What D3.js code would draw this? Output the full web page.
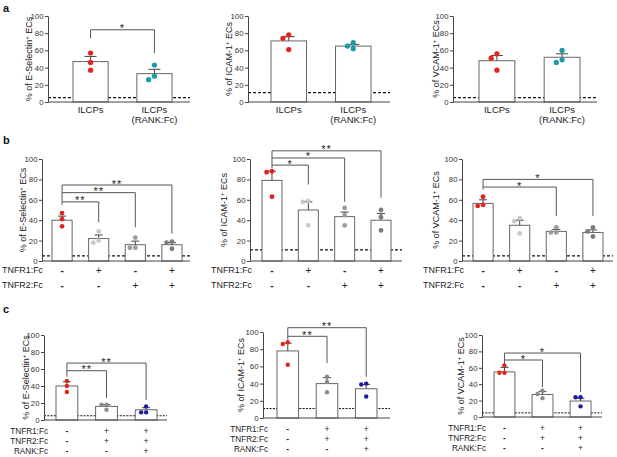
<!DOCTYPE html>
<html>
<head>
<meta charset="utf-8">
<script src="https://cdn.jsdelivr.net/npm/d3@7"></script>
<style>
  body { margin: 0; background: #fff; }
  svg { font-family: "Liberation Sans", Arial, sans-serif; }
</style>
</head>
<body>
<svg width="617" height="457"></svg>
<script>
// ---- data ----
const markers = ['E-Selectin', 'ICAM-1', 'VCAM-1'];
const yTicks = [0, 20, 40, 60, 80, 100];

// panel a
const groupsA = [['ILCPs'], ['ILCPs', '(RANK:Fc)']];
const meansA = [[47, 33], [71, 65], [48, 52]];
const semA = [[6, 5], [5, 2], [6, 4]];
const pointsA = [
    [[57, 46, 37], [43, 30, 26]],
    [[78, 74, 61], [69, 65, 62]],
    [[56, 51, 37], [60, 46, 49]]
];
const cutoffA = [5, 11, 5];
// [from, to, label, level, right end]
const bracketsA = [[[0, 1, '*', 84, 57]], [], []];
const leftEndA = [74, 0, 0];
const colorsA = ['#e5231e', '#1b9aa8'];

// panel b
const signRowsB = [
    ['TNFR1:Fc', ['-', '+', '-', '+']],
    ['TNFR2:Fc', ['-', '-', '+', '+']]
];
const meansB = [[40, 22, 16, 16], [79, 50, 43.5, 40], [56.5, 35, 29, 28]];
const semB = [[4, 3.5, 3.5, 2], [9, 8, 4.5, 6.5], [3.5, 5, 2, 2.5]];
const pointsB = [
    [[47, 41, 34], [29, 18, 20], [23, 13, 13], [19, 18, 12]],
    [[88, 87, 63], [59, 58, 35], [52, 45, 35], [50, 43, 30]],
    [[63, 54, 55], [42, 39, 27], [33, 28, 28], [33, 29, 24]]
];
const cutoffB = [5, 11, 5];
const bracketsB = [
    [[0, 1, '**', 58, 38], [0, 2, '**', 67, 33], [0, 3, '**', 74.5, 27]],
    [[0, 1, '*', 94, 75], [0, 2, '*', 101, 58], [0, 3, '**', 108, 62]],
    [[0, 2, '*', 72.5, 44], [0, 3, '*', 80, 44]]
];
const leftEndB = [55, 91, 70];
const colorsB = ['#e5231e', '#c9c9c9', '#9c9c9c', '#7c7c7c'];

// panel c
const signRowsC = [
    ['TNFR1:Fc', ['-', '+', '+']],
    ['TNFR2:Fc', ['-', '+', '+']],
    ['RANK:Fc', ['-', '-', '+']]
];
const meansC = [[40, 16, 12], [78, 40, 34], [55, 27.5, 19.5]];
const semC = [[5, 2, 2.5], [9, 7, 5], [5.5, 3.5, 3.3]];
const pointsC = [
    [[46, 40, 33], [18, 18, 12], [16, 9, 9]],
    [[88, 86, 62], [48, 42, 30], [40, 39, 25]],
    [[63, 54, 54], [32, 28, 23], [24, 24, 13]]
];
const cutoffC = [5, 11, 5];
const bracketsC = [
    [[0, 1, '**', 58, 26], [0, 2, '**', 67, 23.5]],
    [[0, 1, '**', 95, 64], [0, 2, '**', 105, 48]],
    [[0, 1, '*', 69.5, 36.5], [0, 2, '*', 78, 30.5]]
];
const leftEndC = [51, 91, 64];
const colorsC = ['#e5231e', '#8a8a8a', '#1c1c9c'];

// ---- layout (pixels) ----
const layoutA = [
    { ax: 48, end: 190, band: [73, 172], y: [102, 16], labX: 30 },
    { ax: 248, end: 390, band: [271, 371], y: [102, 16], labX: 230 },
    { ax: 453, end: 597, band: [479, 580], y: [102, 16], labX: 437 }
];
const layoutB = [
    { ax: 42, end: 190, band: [52, 182], y: [261, 159], labX: 24, rowX: 43, rowY: [271, 286] },
    { ax: 250, end: 402, band: [262, 391], y: [261, 159], labX: 225, rowX: 252, rowY: [271, 286] },
    { ax: 462, end: 613, band: [473, 603], y: [261, 159], labX: 437, rowX: 464, rowY: [271, 286] }
];
const layoutC = [
    { ax: 44, end: 167, band: [56, 157], y: [420, 335], labX: 27, rowX: 48, rowY: [432, 442, 452] },
    { ax: 263, end: 390, band: [277, 377], y: [418, 332], labX: 242, rowX: 268, rowY: [430, 440, 450] },
    { ax: 482, end: 602, band: [494, 591], y: [417, 335], labX: 462, rowX: 486, rowY: [429, 439, 449] }
];

const svg = d3.select('svg');

// spread points of one bar sideways so they do not overlap
function dodge(vals, y, r) {
    const placed = [];
    vals.map((v, i) => ({ v, i }))
        .sort((a, b) => b.v - a.v)
        .forEach(p => {
            const cy = y(p.v);
            let cx = 0;
            for (const k of [0, -1, 1, -2, 2]) {
                cx = k * (2 * r + 0.6);
                if (placed.every(q => Math.hypot(q.cx - cx, q.cy - cy) >= 2 * r)) break;
            }
            placed.push({ v: p.v, cx, cy });
        });
    return placed;
}

function drawPanel(o) {
    const L = o.layout;
    const g = svg.append('g');
    const y = d3.scaleLinear().domain([0, 100]).range(L.y);
    const x = d3.scaleBand().domain(d3.range(o.means.length)).range(L.band)
        .paddingInner(0.45).paddingOuter(0);
    const cx = i => x(i) + x.bandwidth() / 2;

    // detection cutoff
    g.append('line')
        .attr('x1', L.ax).attr('x2', L.end)
        .attr('y1', y(o.cutoff)).attr('y2', y(o.cutoff))
        .attr('stroke', '#111').attr('stroke-width', o.dashW)
        .attr('stroke-dasharray', o.dash);

    // bars
    g.selectAll('rect.bar')
        .data(o.means)
        .enter()
        .append('rect')
        .attr('class', 'bar')
        .attr('x', (d, i) => x(i))
        .attr('width', x.bandwidth())
        .attr('y', d => y(d))
        .attr('height', d => y(0) - y(d))
        .attr('fill', '#fff')
        .attr('stroke', '#666')
        .attr('stroke-width', 1);

    // error bars (upper only)
    const capW = o.cap;
    o.means.forEach((m, i) => {
        const top = y(m + o.sem[i]);
        g.append('line').attr('x1', cx(i)).attr('x2', cx(i))
            .attr('y1', y(m)).attr('y2', top)
            .attr('stroke', '#444').attr('stroke-width', 1);
        g.append('line').attr('x1', cx(i) - capW / 2).attr('x2', cx(i) + capW / 2)
            .attr('y1', top).attr('y2', top)
            .attr('stroke', '#444').attr('stroke-width', 1);
    });

    // individual points
    o.points.forEach((vals, i) => {
        g.selectAll(null)
            .data(dodge(vals, y, o.r))
            .enter()
            .append('circle')
            .attr('cx', d => cx(i) + d.cx)
            .attr('cy', d => d.cy)
            .attr('r', o.r)
            .attr('fill', o.colors[i]);
    });

    // axes
    const yAxis = g.append('g')
        .attr('transform', `translate(${L.ax},0)`)
        .call(d3.axisLeft(y).tickValues(yTicks).tickSize(3).tickSizeOuter(0).tickPadding(1.5));
    yAxis.select('.domain').attr('stroke', '#444');
    yAxis.selectAll('.tick line').attr('stroke', '#444');
    yAxis.selectAll('.tick text').attr('font-size', 7.8).attr('fill', '#333')
        .attr('font-family', '"Liberation Sans", Arial, sans-serif');
    g.append('line')
        .attr('x1', L.ax).attr('x2', L.end)
        .attr('y1', y(0)).attr('y2', y(0))
        .attr('stroke', '#444').attr('stroke-width', 1);

    // y label
    const lab = g.append('text')
        .attr('transform', `translate(${L.labX},${(L.y[0] + L.y[1]) / 2}) rotate(-90)`)
        .attr('text-anchor', 'middle')
        .attr('dominant-baseline', 'middle')
        .attr('font-size', 9)
        .attr('fill', '#222');
    lab.append('tspan').text(`% of ${o.marker}`);
    lab.append('tspan').text('+').attr('font-size', 6).attr('baseline-shift', 'super');
    lab.append('tspan').text(' ECs');

    // significance brackets
    if (o.brackets.length) {
        const topLevel = d3.max(o.brackets, b => b[3]);
        g.append('line')
            .attr('x1', cx(0)).attr('x2', cx(0))
            .attr('y1', y(o.leftEnd)).attr('y2', y(topLevel))
            .attr('stroke', '#555').attr('stroke-width', 1);
    }
    o.brackets.forEach(([a, b, label, level, rEnd]) => {
        g.append('path')
            .attr('d', `M${cx(a)},${y(level)}H${cx(b)}V${y(rEnd)}`)
            .attr('fill', 'none').attr('stroke', '#555').attr('stroke-width', 1);
        g.append('text')
            .attr('x', (cx(a) + cx(b)) / 2)
            .attr('y', y(level) + 2.5)
            .attr('text-anchor', 'middle')
            .attr('font-size', 11)
            .attr('letter-spacing', 1)
            .attr('fill', '#222')
            .text(label);
    });

    // category labels
    if (o.groups) {
        o.groups.forEach((lines, i) => {
            lines.forEach((t, k) => {
                g.append('text')
                    .attr('x', cx(i)).attr('y', y(0) + 10.5 + k * 10)
                    .attr('text-anchor', 'middle')
                    .attr('font-size', 9.5).attr('fill', '#222')
                    .text(t);
            });
        });
    }
    if (o.signRows) {
        o.signRows.forEach(([name, signs], r) => {
            const ry = L.rowY[r];
            g.append('text')
                .attr('x', L.rowX).attr('y', ry)
                .attr('text-anchor', 'end').attr('dominant-baseline', 'middle')
                .attr('font-size', o.rowFont).attr('fill', '#222')
                .text(name);
            signs.forEach((s, i) => {
                g.append('text')
                    .attr('x', cx(i)).attr('y', ry)
                    .attr('text-anchor', 'middle').attr('dominant-baseline', 'middle')
                    .attr('font-size', o.signFont).attr('font-weight', s === '+' ? 'normal' : 'bold')
                    .attr('fill', '#222')
                    .text(s);
            });
        });
    }
}

markers.forEach((m, k) => {
    drawPanel({
        layout: layoutA[k], marker: m, means: meansA[k], sem: semA[k], points: pointsA[k],
        cutoff: cutoffA[k], brackets: bracketsA[k], leftEnd: leftEndA[k], colors: colorsA,
        groups: groupsA, r: 2.6, cap: 12, dash: '3,2', dashW: 1.3
    });
    drawPanel({
        layout: layoutB[k], marker: m, means: meansB[k], sem: semB[k], points: pointsB[k],
        cutoff: cutoffB[k], brackets: bracketsB[k], leftEnd: leftEndB[k], colors: colorsB,
        signRows: signRowsB, rowFont: 8.9, signFont: 10, r: 2.4, cap: 8, dash: '3,2', dashW: 1.3
    });
    drawPanel({
        layout: layoutC[k], marker: m, means: meansC[k], sem: semC[k], points: pointsC[k],
        cutoff: cutoffC[k], brackets: bracketsC[k], leftEnd: leftEndC[k], colors: colorsC,
        signRows: signRowsC, rowFont: 8.2, signFont: 8.5, r: 2.2, cap: 8, dash: '2,1.3', dashW: 1
    });
});

// panel letters
[['a', 3, 12], ['b', 3, 144], ['c', 3, 313]].forEach(([t, px, py]) => {
    svg.append('text').attr('x', px).attr('y', py)
        .attr('font-size', 11).attr('font-weight', 'bold').attr('fill', '#111')
        .text(t);
});
</script>
</body>
</html>
